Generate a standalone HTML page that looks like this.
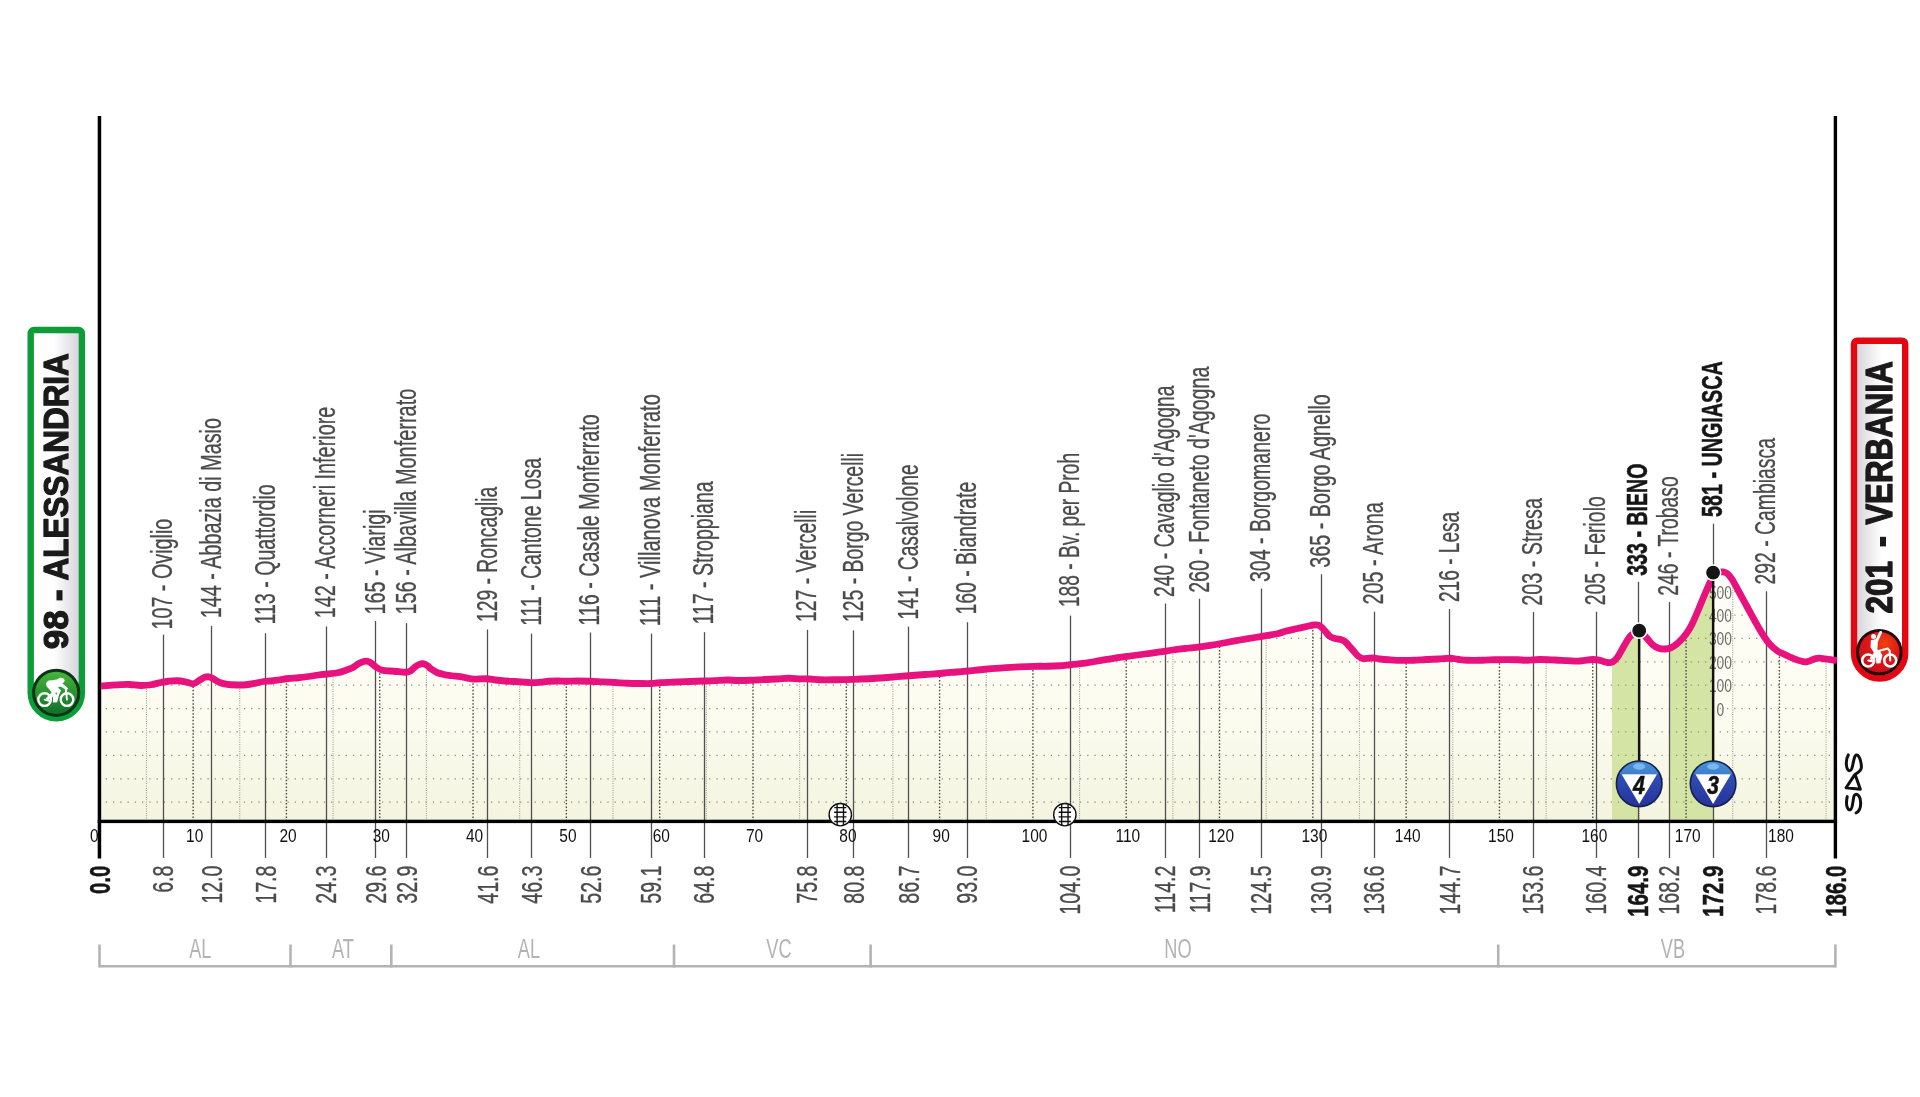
<!DOCTYPE html>
<html lang="en"><head><meta charset="utf-8"><title>Alessandria - Verbania</title>
<style>html,body{margin:0;padding:0;background:#fff;}svg{display:block;}text{font-family:"Liberation Sans",sans-serif;}</style>
</head><body>
<svg width="1920" height="1097" viewBox="0 0 1920 1097" style="will-change:transform">
<defs>
<linearGradient id="gFill" x1="0" y1="570" x2="0" y2="822" gradientUnits="userSpaceOnUse"><stop offset="0" stop-color="#fefef8"/><stop offset="0.55" stop-color="#fcfcf1"/><stop offset="1" stop-color="#f4f4e0"/></linearGradient>
<linearGradient id="gStart" x1="33" y1="0" x2="79" y2="0" gradientUnits="userSpaceOnUse"><stop offset="0" stop-color="#ffffff"/><stop offset="0.45" stop-color="#ffffff"/><stop offset="1" stop-color="#d6d5dc"/></linearGradient>
<linearGradient id="gEnd" x1="1857" y1="0" x2="1902" y2="0" gradientUnits="userSpaceOnUse"><stop offset="0" stop-color="#d6d5dc"/><stop offset="0.55" stop-color="#ffffff"/><stop offset="1" stop-color="#ffffff"/></linearGradient>
<linearGradient id="gGreen" x1="0" y1="0" x2="0" y2="1"><stop offset="0" stop-color="#46b838"/><stop offset="1" stop-color="#0f6d2a"/></linearGradient>
<radialGradient id="gRed" cx="0.62" cy="0.3" r="0.75"><stop offset="0" stop-color="#f2400f"/><stop offset="0.45" stop-color="#e01818"/><stop offset="1" stop-color="#c20d1e"/></radialGradient>
<linearGradient id="gKom" x1="0" y1="0" x2="0" y2="1"><stop offset="0" stop-color="#4a90d9"/><stop offset="0.28" stop-color="#3f7fcc"/><stop offset="0.29" stop-color="#2f4fb4"/><stop offset="1" stop-color="#27339c"/></linearGradient>
<clipPath id="cArea"><path d="M101.00,686.00 C101.33,685.98 101.33,686.02 103.00,685.90 C104.67,685.77 108.00,685.47 111.00,685.25 C114.00,685.03 117.88,684.73 121.00,684.60 C124.12,684.48 126.42,684.35 129.75,684.50 C133.08,684.65 137.46,685.46 141.00,685.50 C144.54,685.54 147.67,685.25 151.00,684.75 C154.33,684.25 158.08,683.08 161.00,682.50 C163.92,681.92 165.79,681.54 168.50,681.25 C171.21,680.96 174.33,680.62 177.25,680.75 C180.17,680.88 183.29,681.50 186.00,682.00 C188.71,682.50 191.21,684.08 193.50,683.75 C195.79,683.42 197.88,681.08 199.75,680.00 C201.62,678.92 203.08,677.75 204.75,677.25 C206.42,676.75 208.08,676.58 209.75,677.00 C211.42,677.42 213.08,678.83 214.75,679.75 C216.42,680.67 217.67,681.73 219.75,682.50 C221.83,683.27 224.33,683.98 227.25,684.40 C230.17,684.82 234.12,684.94 237.25,685.00 C240.38,685.06 243.08,685.02 246.00,684.75 C248.92,684.48 251.83,683.94 254.75,683.40 C257.67,682.86 260.79,681.90 263.50,681.50 C266.21,681.10 268.29,681.29 271.00,681.00 C273.71,680.71 276.83,680.17 279.75,679.75 C282.67,679.33 285.38,678.83 288.50,678.50 C291.62,678.17 295.17,678.08 298.50,677.75 C301.83,677.42 305.17,676.96 308.50,676.50 C311.83,676.04 315.38,675.42 318.50,675.00 C321.62,674.58 324.08,674.38 327.25,674.00 C330.42,673.62 334.54,673.32 337.50,672.75 C340.46,672.18 342.50,671.43 345.00,670.60 C347.50,669.77 350.21,668.93 352.50,667.75 C354.79,666.57 356.88,664.54 358.75,663.50 C360.62,662.46 362.29,661.88 363.75,661.50 C365.21,661.12 366.25,660.98 367.50,661.25 C368.75,661.52 369.79,662.10 371.25,663.10 C372.71,664.10 374.38,666.06 376.25,667.25 C378.12,668.44 380.21,669.62 382.50,670.25 C384.79,670.88 387.50,670.79 390.00,671.00 C392.50,671.21 395.00,671.29 397.50,671.50 C400.00,671.71 402.92,672.29 405.00,672.25 C407.08,672.21 408.33,672.14 410.00,671.25 C411.67,670.36 413.43,668.04 415.00,666.90 C416.57,665.76 418.05,664.92 419.40,664.40 C420.75,663.88 421.85,663.61 423.10,663.75 C424.35,663.89 425.54,664.38 426.90,665.25 C428.26,666.12 429.48,667.75 431.25,669.00 C433.02,670.25 435.21,671.79 437.50,672.75 C439.79,673.71 442.50,674.25 445.00,674.75 C447.50,675.25 450.00,675.44 452.50,675.75 C455.00,676.06 457.50,676.21 460.00,676.60 C462.50,676.99 465.21,677.68 467.50,678.10 C469.79,678.52 470.62,678.99 473.75,679.10 C476.88,679.21 482.71,678.60 486.25,678.75 C489.79,678.90 491.88,679.62 495.00,680.00 C498.12,680.38 501.67,680.75 505.00,681.00 C508.33,681.25 511.67,681.29 515.00,681.50 C518.33,681.71 522.08,682.04 525.00,682.25 C527.92,682.46 530.00,682.75 532.50,682.75 C535.00,682.75 537.29,682.50 540.00,682.25 C542.71,682.00 545.83,681.46 548.75,681.25 C551.67,681.04 554.46,681.00 557.50,681.00 C560.54,681.00 563.67,681.25 567.00,681.25 C570.33,681.25 573.67,681.00 577.50,681.00 C581.33,681.00 585.83,681.10 590.00,681.25 C594.17,681.40 598.33,681.69 602.50,681.90 C606.67,682.11 610.83,682.27 615.00,682.50 C619.17,682.73 623.33,683.08 627.50,683.25 C631.67,683.42 636.04,683.46 640.00,683.50 C643.96,683.54 647.92,683.62 651.25,683.50 C654.58,683.38 655.62,683.00 660.00,682.75 C664.38,682.50 672.50,682.21 677.50,682.00 C682.50,681.79 685.62,681.67 690.00,681.50 C694.38,681.33 699.58,681.15 703.75,681.00 C707.92,680.85 711.04,680.77 715.00,680.60 C718.96,680.43 723.75,680.02 727.50,680.00 C731.25,679.98 733.75,680.46 737.50,680.50 C741.25,680.54 745.42,680.42 750.00,680.25 C754.58,680.08 760.42,679.71 765.00,679.50 C769.58,679.29 773.54,679.21 777.50,679.00 C781.46,678.79 785.00,678.27 788.75,678.25 C792.50,678.23 796.46,678.77 800.00,678.90 C803.54,679.02 806.67,678.86 810.00,679.00 C813.33,679.14 815.83,679.62 820.00,679.75 C824.17,679.88 829.38,679.81 835.00,679.75 C840.62,679.69 848.12,679.57 853.75,679.40 C859.38,679.23 863.12,679.07 868.75,678.75 C874.38,678.43 880.83,678.00 887.50,677.50 C894.17,677.00 902.50,676.25 908.75,675.75 C915.00,675.25 919.79,674.88 925.00,674.50 C930.21,674.12 934.79,673.92 940.00,673.50 C945.21,673.08 951.67,672.42 956.25,672.00 C960.83,671.58 962.71,671.46 967.50,671.00 C972.29,670.54 979.58,669.73 985.00,669.25 C990.42,668.77 994.38,668.49 1000.00,668.10 C1005.62,667.71 1012.92,667.20 1018.75,666.90 C1024.58,666.60 1030.21,666.41 1035.00,666.30 C1039.79,666.19 1043.33,666.34 1047.50,666.25 C1051.67,666.16 1056.25,666.00 1060.00,665.75 C1063.75,665.50 1065.83,665.19 1070.00,664.75 C1074.17,664.31 1080.00,663.79 1085.00,663.10 C1090.00,662.41 1095.00,661.43 1100.00,660.60 C1105.00,659.77 1110.00,658.87 1115.00,658.10 C1120.00,657.33 1125.00,656.68 1130.00,656.00 C1135.00,655.32 1140.00,654.68 1145.00,654.00 C1150.00,653.32 1155.42,652.57 1160.00,651.90 C1164.58,651.23 1168.33,650.57 1172.50,650.00 C1176.67,649.43 1180.42,649.02 1185.00,648.50 C1189.58,647.98 1195.42,647.48 1200.00,646.90 C1204.58,646.32 1208.33,645.69 1212.50,645.00 C1216.67,644.31 1220.42,643.58 1225.00,642.75 C1229.58,641.92 1235.00,640.88 1240.00,640.00 C1245.00,639.12 1250.83,638.20 1255.00,637.50 C1259.17,636.80 1261.25,636.42 1265.00,635.80 C1268.75,635.17 1273.96,634.55 1277.50,633.75 C1281.04,632.95 1282.92,631.88 1286.25,631.00 C1289.58,630.12 1293.96,629.29 1297.50,628.50 C1301.04,627.71 1304.79,626.83 1307.50,626.25 C1310.21,625.67 1311.88,625.17 1313.75,625.00 C1315.62,624.83 1317.29,624.73 1318.75,625.25 C1320.21,625.77 1321.25,626.89 1322.50,628.10 C1323.75,629.31 1325.00,631.10 1326.25,632.50 C1327.50,633.90 1328.54,635.50 1330.00,636.50 C1331.46,637.50 1333.12,637.96 1335.00,638.50 C1336.88,639.04 1339.58,639.25 1341.25,639.75 C1342.92,640.25 1343.75,640.52 1345.00,641.50 C1346.25,642.48 1347.29,643.98 1348.75,645.60 C1350.21,647.23 1352.19,649.52 1353.75,651.25 C1355.31,652.98 1356.64,654.79 1358.10,656.00 C1359.56,657.21 1360.72,658.12 1362.50,658.50 C1364.28,658.88 1366.88,658.33 1368.75,658.25 C1370.62,658.17 1371.88,657.88 1373.75,658.00 C1375.62,658.12 1377.50,658.71 1380.00,659.00 C1382.50,659.29 1385.21,659.52 1388.75,659.75 C1392.29,659.98 1397.08,660.32 1401.25,660.40 C1405.42,660.48 1409.58,660.40 1413.75,660.25 C1417.92,660.10 1422.08,659.71 1426.25,659.50 C1430.42,659.29 1434.79,659.21 1438.75,659.00 C1442.71,658.79 1446.88,658.21 1450.00,658.25 C1453.12,658.29 1454.58,658.92 1457.50,659.25 C1460.42,659.58 1463.33,660.08 1467.50,660.25 C1471.67,660.42 1477.92,660.33 1482.50,660.25 C1487.08,660.17 1490.92,659.86 1495.00,659.75 C1499.08,659.64 1503.25,659.60 1507.00,659.60 C1510.75,659.60 1514.08,659.64 1517.50,659.75 C1520.92,659.86 1523.75,660.29 1527.50,660.25 C1531.25,660.21 1535.42,659.54 1540.00,659.50 C1544.58,659.46 1550.42,659.82 1555.00,660.00 C1559.58,660.18 1563.33,660.43 1567.50,660.60 C1571.67,660.77 1575.83,661.18 1580.00,661.00 C1584.17,660.82 1589.17,659.60 1592.50,659.50 C1595.83,659.40 1597.50,659.90 1600.00,660.40 C1602.50,660.90 1605.42,662.25 1607.50,662.50 C1609.58,662.75 1610.83,662.78 1612.50,661.90 C1614.17,661.02 1615.83,659.39 1617.50,657.20 C1619.17,655.01 1620.83,651.62 1622.50,648.75 C1624.17,645.88 1626.04,642.26 1627.50,640.00 C1628.96,637.74 1629.32,636.65 1631.25,635.20 C1633.18,633.75 1636.60,630.92 1639.10,631.30 C1641.60,631.68 1644.02,635.28 1646.25,637.50 C1648.48,639.72 1650.42,642.82 1652.50,644.60 C1654.58,646.38 1656.67,647.47 1658.75,648.20 C1660.83,648.93 1662.92,649.10 1665.00,649.00 C1667.08,648.90 1668.96,648.73 1671.25,647.60 C1673.54,646.47 1676.25,644.51 1678.75,642.20 C1681.25,639.89 1683.96,636.92 1686.25,633.75 C1688.54,630.58 1690.42,627.37 1692.50,623.20 C1694.58,619.03 1696.67,613.66 1698.75,608.75 C1700.83,603.84 1703.12,598.12 1705.00,593.75 C1706.88,589.38 1708.58,585.54 1710.00,582.50 C1711.42,579.46 1712.17,577.15 1713.50,575.50 C1714.83,573.85 1716.40,573.20 1718.00,572.60 C1719.60,572.00 1721.52,571.71 1723.10,571.90 C1724.68,572.09 1725.93,572.40 1727.50,573.75 C1729.07,575.10 1730.42,576.67 1732.50,580.00 C1734.58,583.33 1737.50,589.17 1740.00,593.75 C1742.50,598.33 1745.00,602.92 1747.50,607.50 C1750.00,612.08 1752.50,616.80 1755.00,621.25 C1757.50,625.70 1760.00,630.31 1762.50,634.20 C1765.00,638.09 1767.50,641.80 1770.00,644.60 C1772.50,647.40 1775.00,649.33 1777.50,651.00 C1780.00,652.67 1782.08,653.23 1785.00,654.60 C1787.92,655.97 1792.08,658.05 1795.00,659.20 C1797.92,660.35 1800.58,661.05 1802.50,661.50 C1804.42,661.95 1805.08,662.08 1806.50,661.90 C1807.92,661.72 1809.58,660.92 1811.00,660.40 C1812.42,659.88 1813.62,659.18 1815.00,658.80 C1816.38,658.42 1817.30,658.03 1819.30,658.10 C1821.30,658.17 1824.88,658.90 1827.00,659.20 C1829.12,659.50 1830.35,659.70 1832.00,659.90 C1833.65,660.10 1836.08,660.32 1836.90,660.40 L1836.9,821.5 L99.6,821.5 L99.6,686 Z"/></clipPath>
</defs>
<rect width="1920" height="1097" fill="#ffffff"/>
<g clip-path="url(#cArea)">
<rect x="98" y="560" width="1740" height="264" fill="url(#gFill)"/>
<rect x="1612" y="560" width="27.2" height="264" fill="#d3e4a4"/>
<rect x="1669.3" y="560" width="43.8" height="264" fill="#d3e4a4"/>
<line x1="105.7" y1="802.16" x2="1834" y2="802.16" stroke="#8e8e82" stroke-width="1.25" stroke-dasharray="1.3 5.97"/>
<line x1="105.7" y1="778.77" x2="1834" y2="778.77" stroke="#8e8e82" stroke-width="1.25" stroke-dasharray="1.3 5.97"/>
<line x1="105.7" y1="755.38" x2="1834" y2="755.38" stroke="#8e8e82" stroke-width="1.25" stroke-dasharray="1.3 5.97"/>
<line x1="105.7" y1="731.99" x2="1834" y2="731.99" stroke="#8e8e82" stroke-width="1.25" stroke-dasharray="1.3 5.97"/>
<line x1="105.7" y1="708.60" x2="1834" y2="708.60" stroke="#8e8e82" stroke-width="1.25" stroke-dasharray="1.3 5.97"/>
<line x1="105.7" y1="685.21" x2="1834" y2="685.21" stroke="#8e8e82" stroke-width="1.25" stroke-dasharray="1.3 5.97"/>
<line x1="105.7" y1="661.82" x2="1834" y2="661.82" stroke="#8e8e82" stroke-width="1.25" stroke-dasharray="1.3 5.97"/>
<line x1="105.7" y1="638.43" x2="1834" y2="638.43" stroke="#8e8e82" stroke-width="1.25" stroke-dasharray="1.3 5.97"/>
<line x1="105.7" y1="615.04" x2="1834" y2="615.04" stroke="#8e8e82" stroke-width="1.25" stroke-dasharray="1.3 5.97"/>
<line x1="105.7" y1="591.65" x2="1834" y2="591.65" stroke="#8e8e82" stroke-width="1.25" stroke-dasharray="1.3 5.97"/>
<line x1="146.45" y1="560" x2="146.45" y2="820" stroke="#a2a298" stroke-width="1.1" stroke-dasharray="1 1.3"/>
<line x1="193.11" y1="560" x2="193.11" y2="820" stroke="#4a4a44" stroke-width="1.4" stroke-dasharray="1.5 1.83"/>
<line x1="239.76" y1="560" x2="239.76" y2="820" stroke="#a2a298" stroke-width="1.1" stroke-dasharray="1 1.3"/>
<line x1="286.42" y1="560" x2="286.42" y2="820" stroke="#4a4a44" stroke-width="1.4" stroke-dasharray="1.5 1.83"/>
<line x1="333.07" y1="560" x2="333.07" y2="820" stroke="#a2a298" stroke-width="1.1" stroke-dasharray="1 1.3"/>
<line x1="379.73" y1="560" x2="379.73" y2="820" stroke="#4a4a44" stroke-width="1.4" stroke-dasharray="1.5 1.83"/>
<line x1="426.38" y1="560" x2="426.38" y2="820" stroke="#a2a298" stroke-width="1.1" stroke-dasharray="1 1.3"/>
<line x1="473.04" y1="560" x2="473.04" y2="820" stroke="#4a4a44" stroke-width="1.4" stroke-dasharray="1.5 1.83"/>
<line x1="519.69" y1="560" x2="519.69" y2="820" stroke="#a2a298" stroke-width="1.1" stroke-dasharray="1 1.3"/>
<line x1="566.35" y1="560" x2="566.35" y2="820" stroke="#4a4a44" stroke-width="1.4" stroke-dasharray="1.5 1.83"/>
<line x1="613.00" y1="560" x2="613.00" y2="820" stroke="#a2a298" stroke-width="1.1" stroke-dasharray="1 1.3"/>
<line x1="659.66" y1="560" x2="659.66" y2="820" stroke="#4a4a44" stroke-width="1.4" stroke-dasharray="1.5 1.83"/>
<line x1="706.31" y1="560" x2="706.31" y2="820" stroke="#a2a298" stroke-width="1.1" stroke-dasharray="1 1.3"/>
<line x1="752.97" y1="560" x2="752.97" y2="820" stroke="#4a4a44" stroke-width="1.4" stroke-dasharray="1.5 1.83"/>
<line x1="799.62" y1="560" x2="799.62" y2="820" stroke="#a2a298" stroke-width="1.1" stroke-dasharray="1 1.3"/>
<line x1="846.28" y1="560" x2="846.28" y2="820" stroke="#4a4a44" stroke-width="1.4" stroke-dasharray="1.5 1.83"/>
<line x1="892.93" y1="560" x2="892.93" y2="820" stroke="#a2a298" stroke-width="1.1" stroke-dasharray="1 1.3"/>
<line x1="939.59" y1="560" x2="939.59" y2="820" stroke="#4a4a44" stroke-width="1.4" stroke-dasharray="1.5 1.83"/>
<line x1="986.24" y1="560" x2="986.24" y2="820" stroke="#a2a298" stroke-width="1.1" stroke-dasharray="1 1.3"/>
<line x1="1032.90" y1="560" x2="1032.90" y2="820" stroke="#4a4a44" stroke-width="1.4" stroke-dasharray="1.5 1.83"/>
<line x1="1079.56" y1="560" x2="1079.56" y2="820" stroke="#a2a298" stroke-width="1.1" stroke-dasharray="1 1.3"/>
<line x1="1126.21" y1="560" x2="1126.21" y2="820" stroke="#4a4a44" stroke-width="1.4" stroke-dasharray="1.5 1.83"/>
<line x1="1172.87" y1="560" x2="1172.87" y2="820" stroke="#a2a298" stroke-width="1.1" stroke-dasharray="1 1.3"/>
<line x1="1219.52" y1="560" x2="1219.52" y2="820" stroke="#4a4a44" stroke-width="1.4" stroke-dasharray="1.5 1.83"/>
<line x1="1266.17" y1="560" x2="1266.17" y2="820" stroke="#a2a298" stroke-width="1.1" stroke-dasharray="1 1.3"/>
<line x1="1312.83" y1="560" x2="1312.83" y2="820" stroke="#4a4a44" stroke-width="1.4" stroke-dasharray="1.5 1.83"/>
<line x1="1359.48" y1="560" x2="1359.48" y2="820" stroke="#a2a298" stroke-width="1.1" stroke-dasharray="1 1.3"/>
<line x1="1406.14" y1="560" x2="1406.14" y2="820" stroke="#4a4a44" stroke-width="1.4" stroke-dasharray="1.5 1.83"/>
<line x1="1452.79" y1="560" x2="1452.79" y2="820" stroke="#a2a298" stroke-width="1.1" stroke-dasharray="1 1.3"/>
<line x1="1499.45" y1="560" x2="1499.45" y2="820" stroke="#4a4a44" stroke-width="1.4" stroke-dasharray="1.5 1.83"/>
<line x1="1546.10" y1="560" x2="1546.10" y2="820" stroke="#a2a298" stroke-width="1.1" stroke-dasharray="1 1.3"/>
<line x1="1592.76" y1="560" x2="1592.76" y2="820" stroke="#4a4a44" stroke-width="1.4" stroke-dasharray="1.5 1.83"/>
<line x1="1639.41" y1="560" x2="1639.41" y2="820" stroke="#a2a298" stroke-width="1.1" stroke-dasharray="1 1.3"/>
<line x1="1686.07" y1="560" x2="1686.07" y2="820" stroke="#4a4a44" stroke-width="1.4" stroke-dasharray="1.5 1.83"/>
<line x1="1732.72" y1="560" x2="1732.72" y2="820" stroke="#a2a298" stroke-width="1.1" stroke-dasharray="1 1.3"/>
<line x1="1779.38" y1="560" x2="1779.38" y2="820" stroke="#4a4a44" stroke-width="1.4" stroke-dasharray="1.5 1.83"/>
<line x1="1826.03" y1="560" x2="1826.03" y2="820" stroke="#a2a298" stroke-width="1.1" stroke-dasharray="1 1.3"/>
</g>
<text transform="translate(1720.4,715.5) scale(0.79,1)" font-size="17.5" fill="#6a6a66" text-anchor="middle">0</text>
<text transform="translate(1720.4,692.1) scale(0.79,1)" font-size="17.5" fill="#6a6a66" text-anchor="middle">100</text>
<text transform="translate(1720.4,668.7) scale(0.79,1)" font-size="17.5" fill="#6a6a66" text-anchor="middle">200</text>
<text transform="translate(1720.4,645.3) scale(0.79,1)" font-size="17.5" fill="#6a6a66" text-anchor="middle">300</text>
<text transform="translate(1720.4,621.9) scale(0.79,1)" font-size="17.5" fill="#6a6a66" text-anchor="middle">400</text>
<text transform="translate(1720.4,598.5) scale(0.79,1)" font-size="17.5" fill="#6a6a66" text-anchor="middle">500</text>
<line x1="163.5" y1="634.6" x2="163.5" y2="858" stroke="#505050" stroke-width="1.3"/>
<line x1="211.5" y1="625.9" x2="211.5" y2="858" stroke="#505050" stroke-width="1.3"/>
<line x1="265.5" y1="633.2" x2="265.5" y2="858" stroke="#505050" stroke-width="1.3"/>
<line x1="326.5" y1="626.4" x2="326.5" y2="858" stroke="#505050" stroke-width="1.3"/>
<line x1="375.5" y1="621.0" x2="375.5" y2="858" stroke="#505050" stroke-width="1.3"/>
<line x1="406.5" y1="623.1" x2="406.5" y2="858" stroke="#505050" stroke-width="1.3"/>
<line x1="487.5" y1="629.4" x2="487.5" y2="858" stroke="#505050" stroke-width="1.3"/>
<line x1="531.5" y1="633.6" x2="531.5" y2="858" stroke="#505050" stroke-width="1.3"/>
<line x1="590.5" y1="632.5" x2="590.5" y2="858" stroke="#505050" stroke-width="1.3"/>
<line x1="651.5" y1="633.6" x2="651.5" y2="858" stroke="#505050" stroke-width="1.3"/>
<line x1="704.5" y1="632.2" x2="704.5" y2="858" stroke="#505050" stroke-width="1.3"/>
<line x1="807.5" y1="629.9" x2="807.5" y2="858" stroke="#505050" stroke-width="1.3"/>
<line x1="853.5" y1="630.4" x2="853.5" y2="858" stroke="#505050" stroke-width="1.3"/>
<line x1="908.5" y1="626.6" x2="908.5" y2="858" stroke="#505050" stroke-width="1.3"/>
<line x1="967.5" y1="622.2" x2="967.5" y2="858" stroke="#505050" stroke-width="1.3"/>
<line x1="1070.5" y1="615.6" x2="1070.5" y2="858" stroke="#505050" stroke-width="1.3"/>
<line x1="1165.5" y1="603.5" x2="1165.5" y2="858" stroke="#505050" stroke-width="1.3"/>
<line x1="1199.5" y1="598.8" x2="1199.5" y2="858" stroke="#505050" stroke-width="1.3"/>
<line x1="1261.5" y1="588.5" x2="1261.5" y2="858" stroke="#505050" stroke-width="1.3"/>
<line x1="1321.5" y1="574.2" x2="1321.5" y2="858" stroke="#505050" stroke-width="1.3"/>
<line x1="1374.5" y1="611.7" x2="1374.5" y2="858" stroke="#505050" stroke-width="1.3"/>
<line x1="1449.5" y1="609.1" x2="1449.5" y2="858" stroke="#505050" stroke-width="1.3"/>
<line x1="1533.5" y1="612.1" x2="1533.5" y2="858" stroke="#505050" stroke-width="1.3"/>
<line x1="1596.5" y1="611.7" x2="1596.5" y2="858" stroke="#505050" stroke-width="1.3"/>
<line x1="1638.5" y1="581.7" x2="1638.5" y2="858" stroke="#505050" stroke-width="1.3"/>
<line x1="1669.5" y1="602.1" x2="1669.5" y2="858" stroke="#505050" stroke-width="1.3"/>
<line x1="1713.5" y1="523.7" x2="1713.5" y2="858" stroke="#505050" stroke-width="1.3"/>
<line x1="1766.5" y1="591.3" x2="1766.5" y2="858" stroke="#505050" stroke-width="1.3"/>
<rect x="97.7" y="819.7" width="1739.4" height="3.4" fill="#000"/>
<text transform="translate(94.3,842.1) scale(0.86,1)" font-size="18" fill="#111" text-anchor="middle">0</text>
<rect x="97.7" y="116" width="3.5" height="742.5" fill="#000"/>
<rect x="1833.7" y="116" width="3.4" height="742.5" fill="#000"/>
<path d="M101.00,686.00 C101.33,685.98 101.33,686.02 103.00,685.90 C104.67,685.77 108.00,685.47 111.00,685.25 C114.00,685.03 117.88,684.73 121.00,684.60 C124.12,684.48 126.42,684.35 129.75,684.50 C133.08,684.65 137.46,685.46 141.00,685.50 C144.54,685.54 147.67,685.25 151.00,684.75 C154.33,684.25 158.08,683.08 161.00,682.50 C163.92,681.92 165.79,681.54 168.50,681.25 C171.21,680.96 174.33,680.62 177.25,680.75 C180.17,680.88 183.29,681.50 186.00,682.00 C188.71,682.50 191.21,684.08 193.50,683.75 C195.79,683.42 197.88,681.08 199.75,680.00 C201.62,678.92 203.08,677.75 204.75,677.25 C206.42,676.75 208.08,676.58 209.75,677.00 C211.42,677.42 213.08,678.83 214.75,679.75 C216.42,680.67 217.67,681.73 219.75,682.50 C221.83,683.27 224.33,683.98 227.25,684.40 C230.17,684.82 234.12,684.94 237.25,685.00 C240.38,685.06 243.08,685.02 246.00,684.75 C248.92,684.48 251.83,683.94 254.75,683.40 C257.67,682.86 260.79,681.90 263.50,681.50 C266.21,681.10 268.29,681.29 271.00,681.00 C273.71,680.71 276.83,680.17 279.75,679.75 C282.67,679.33 285.38,678.83 288.50,678.50 C291.62,678.17 295.17,678.08 298.50,677.75 C301.83,677.42 305.17,676.96 308.50,676.50 C311.83,676.04 315.38,675.42 318.50,675.00 C321.62,674.58 324.08,674.38 327.25,674.00 C330.42,673.62 334.54,673.32 337.50,672.75 C340.46,672.18 342.50,671.43 345.00,670.60 C347.50,669.77 350.21,668.93 352.50,667.75 C354.79,666.57 356.88,664.54 358.75,663.50 C360.62,662.46 362.29,661.88 363.75,661.50 C365.21,661.12 366.25,660.98 367.50,661.25 C368.75,661.52 369.79,662.10 371.25,663.10 C372.71,664.10 374.38,666.06 376.25,667.25 C378.12,668.44 380.21,669.62 382.50,670.25 C384.79,670.88 387.50,670.79 390.00,671.00 C392.50,671.21 395.00,671.29 397.50,671.50 C400.00,671.71 402.92,672.29 405.00,672.25 C407.08,672.21 408.33,672.14 410.00,671.25 C411.67,670.36 413.43,668.04 415.00,666.90 C416.57,665.76 418.05,664.92 419.40,664.40 C420.75,663.88 421.85,663.61 423.10,663.75 C424.35,663.89 425.54,664.38 426.90,665.25 C428.26,666.12 429.48,667.75 431.25,669.00 C433.02,670.25 435.21,671.79 437.50,672.75 C439.79,673.71 442.50,674.25 445.00,674.75 C447.50,675.25 450.00,675.44 452.50,675.75 C455.00,676.06 457.50,676.21 460.00,676.60 C462.50,676.99 465.21,677.68 467.50,678.10 C469.79,678.52 470.62,678.99 473.75,679.10 C476.88,679.21 482.71,678.60 486.25,678.75 C489.79,678.90 491.88,679.62 495.00,680.00 C498.12,680.38 501.67,680.75 505.00,681.00 C508.33,681.25 511.67,681.29 515.00,681.50 C518.33,681.71 522.08,682.04 525.00,682.25 C527.92,682.46 530.00,682.75 532.50,682.75 C535.00,682.75 537.29,682.50 540.00,682.25 C542.71,682.00 545.83,681.46 548.75,681.25 C551.67,681.04 554.46,681.00 557.50,681.00 C560.54,681.00 563.67,681.25 567.00,681.25 C570.33,681.25 573.67,681.00 577.50,681.00 C581.33,681.00 585.83,681.10 590.00,681.25 C594.17,681.40 598.33,681.69 602.50,681.90 C606.67,682.11 610.83,682.27 615.00,682.50 C619.17,682.73 623.33,683.08 627.50,683.25 C631.67,683.42 636.04,683.46 640.00,683.50 C643.96,683.54 647.92,683.62 651.25,683.50 C654.58,683.38 655.62,683.00 660.00,682.75 C664.38,682.50 672.50,682.21 677.50,682.00 C682.50,681.79 685.62,681.67 690.00,681.50 C694.38,681.33 699.58,681.15 703.75,681.00 C707.92,680.85 711.04,680.77 715.00,680.60 C718.96,680.43 723.75,680.02 727.50,680.00 C731.25,679.98 733.75,680.46 737.50,680.50 C741.25,680.54 745.42,680.42 750.00,680.25 C754.58,680.08 760.42,679.71 765.00,679.50 C769.58,679.29 773.54,679.21 777.50,679.00 C781.46,678.79 785.00,678.27 788.75,678.25 C792.50,678.23 796.46,678.77 800.00,678.90 C803.54,679.02 806.67,678.86 810.00,679.00 C813.33,679.14 815.83,679.62 820.00,679.75 C824.17,679.88 829.38,679.81 835.00,679.75 C840.62,679.69 848.12,679.57 853.75,679.40 C859.38,679.23 863.12,679.07 868.75,678.75 C874.38,678.43 880.83,678.00 887.50,677.50 C894.17,677.00 902.50,676.25 908.75,675.75 C915.00,675.25 919.79,674.88 925.00,674.50 C930.21,674.12 934.79,673.92 940.00,673.50 C945.21,673.08 951.67,672.42 956.25,672.00 C960.83,671.58 962.71,671.46 967.50,671.00 C972.29,670.54 979.58,669.73 985.00,669.25 C990.42,668.77 994.38,668.49 1000.00,668.10 C1005.62,667.71 1012.92,667.20 1018.75,666.90 C1024.58,666.60 1030.21,666.41 1035.00,666.30 C1039.79,666.19 1043.33,666.34 1047.50,666.25 C1051.67,666.16 1056.25,666.00 1060.00,665.75 C1063.75,665.50 1065.83,665.19 1070.00,664.75 C1074.17,664.31 1080.00,663.79 1085.00,663.10 C1090.00,662.41 1095.00,661.43 1100.00,660.60 C1105.00,659.77 1110.00,658.87 1115.00,658.10 C1120.00,657.33 1125.00,656.68 1130.00,656.00 C1135.00,655.32 1140.00,654.68 1145.00,654.00 C1150.00,653.32 1155.42,652.57 1160.00,651.90 C1164.58,651.23 1168.33,650.57 1172.50,650.00 C1176.67,649.43 1180.42,649.02 1185.00,648.50 C1189.58,647.98 1195.42,647.48 1200.00,646.90 C1204.58,646.32 1208.33,645.69 1212.50,645.00 C1216.67,644.31 1220.42,643.58 1225.00,642.75 C1229.58,641.92 1235.00,640.88 1240.00,640.00 C1245.00,639.12 1250.83,638.20 1255.00,637.50 C1259.17,636.80 1261.25,636.42 1265.00,635.80 C1268.75,635.17 1273.96,634.55 1277.50,633.75 C1281.04,632.95 1282.92,631.88 1286.25,631.00 C1289.58,630.12 1293.96,629.29 1297.50,628.50 C1301.04,627.71 1304.79,626.83 1307.50,626.25 C1310.21,625.67 1311.88,625.17 1313.75,625.00 C1315.62,624.83 1317.29,624.73 1318.75,625.25 C1320.21,625.77 1321.25,626.89 1322.50,628.10 C1323.75,629.31 1325.00,631.10 1326.25,632.50 C1327.50,633.90 1328.54,635.50 1330.00,636.50 C1331.46,637.50 1333.12,637.96 1335.00,638.50 C1336.88,639.04 1339.58,639.25 1341.25,639.75 C1342.92,640.25 1343.75,640.52 1345.00,641.50 C1346.25,642.48 1347.29,643.98 1348.75,645.60 C1350.21,647.23 1352.19,649.52 1353.75,651.25 C1355.31,652.98 1356.64,654.79 1358.10,656.00 C1359.56,657.21 1360.72,658.12 1362.50,658.50 C1364.28,658.88 1366.88,658.33 1368.75,658.25 C1370.62,658.17 1371.88,657.88 1373.75,658.00 C1375.62,658.12 1377.50,658.71 1380.00,659.00 C1382.50,659.29 1385.21,659.52 1388.75,659.75 C1392.29,659.98 1397.08,660.32 1401.25,660.40 C1405.42,660.48 1409.58,660.40 1413.75,660.25 C1417.92,660.10 1422.08,659.71 1426.25,659.50 C1430.42,659.29 1434.79,659.21 1438.75,659.00 C1442.71,658.79 1446.88,658.21 1450.00,658.25 C1453.12,658.29 1454.58,658.92 1457.50,659.25 C1460.42,659.58 1463.33,660.08 1467.50,660.25 C1471.67,660.42 1477.92,660.33 1482.50,660.25 C1487.08,660.17 1490.92,659.86 1495.00,659.75 C1499.08,659.64 1503.25,659.60 1507.00,659.60 C1510.75,659.60 1514.08,659.64 1517.50,659.75 C1520.92,659.86 1523.75,660.29 1527.50,660.25 C1531.25,660.21 1535.42,659.54 1540.00,659.50 C1544.58,659.46 1550.42,659.82 1555.00,660.00 C1559.58,660.18 1563.33,660.43 1567.50,660.60 C1571.67,660.77 1575.83,661.18 1580.00,661.00 C1584.17,660.82 1589.17,659.60 1592.50,659.50 C1595.83,659.40 1597.50,659.90 1600.00,660.40 C1602.50,660.90 1605.42,662.25 1607.50,662.50 C1609.58,662.75 1610.83,662.78 1612.50,661.90 C1614.17,661.02 1615.83,659.39 1617.50,657.20 C1619.17,655.01 1620.83,651.62 1622.50,648.75 C1624.17,645.88 1626.04,642.26 1627.50,640.00 C1628.96,637.74 1629.32,636.65 1631.25,635.20 C1633.18,633.75 1636.60,630.92 1639.10,631.30 C1641.60,631.68 1644.02,635.28 1646.25,637.50 C1648.48,639.72 1650.42,642.82 1652.50,644.60 C1654.58,646.38 1656.67,647.47 1658.75,648.20 C1660.83,648.93 1662.92,649.10 1665.00,649.00 C1667.08,648.90 1668.96,648.73 1671.25,647.60 C1673.54,646.47 1676.25,644.51 1678.75,642.20 C1681.25,639.89 1683.96,636.92 1686.25,633.75 C1688.54,630.58 1690.42,627.37 1692.50,623.20 C1694.58,619.03 1696.67,613.66 1698.75,608.75 C1700.83,603.84 1703.12,598.12 1705.00,593.75 C1706.88,589.38 1708.58,585.54 1710.00,582.50 C1711.42,579.46 1712.17,577.15 1713.50,575.50 C1714.83,573.85 1716.40,573.20 1718.00,572.60 C1719.60,572.00 1721.52,571.71 1723.10,571.90 C1724.68,572.09 1725.93,572.40 1727.50,573.75 C1729.07,575.10 1730.42,576.67 1732.50,580.00 C1734.58,583.33 1737.50,589.17 1740.00,593.75 C1742.50,598.33 1745.00,602.92 1747.50,607.50 C1750.00,612.08 1752.50,616.80 1755.00,621.25 C1757.50,625.70 1760.00,630.31 1762.50,634.20 C1765.00,638.09 1767.50,641.80 1770.00,644.60 C1772.50,647.40 1775.00,649.33 1777.50,651.00 C1780.00,652.67 1782.08,653.23 1785.00,654.60 C1787.92,655.97 1792.08,658.05 1795.00,659.20 C1797.92,660.35 1800.58,661.05 1802.50,661.50 C1804.42,661.95 1805.08,662.08 1806.50,661.90 C1807.92,661.72 1809.58,660.92 1811.00,660.40 C1812.42,659.88 1813.62,659.18 1815.00,658.80 C1816.38,658.42 1817.30,658.03 1819.30,658.10 C1821.30,658.17 1824.88,658.90 1827.00,659.20 C1829.12,659.50 1830.35,659.70 1832.00,659.90 C1833.65,660.10 1836.08,660.32 1836.90,660.40" fill="none" stroke="#e8127f" stroke-width="6.8" stroke-linejoin="round" stroke-linecap="butt"/>
<line x1="1639.20" y1="630.7" x2="1639.20" y2="762" stroke="#111" stroke-width="2.4"/>
<circle cx="1639.20" cy="630.71" r="8.4" fill="#ffffff"/>
<circle cx="1639.20" cy="630.71" r="6.9" fill="#151515"/>
<line x1="1713.10" y1="572.7" x2="1713.10" y2="762" stroke="#111" stroke-width="2.4"/>
<circle cx="1713.10" cy="572.70" r="8.4" fill="#ffffff"/>
<circle cx="1713.10" cy="572.70" r="6.9" fill="#151515"/>
<g transform="translate(1639.20,783.80)">
<circle r="22.8" fill="url(#gKom)" stroke="#14204f" stroke-width="1.6"/>
<ellipse cx="0" cy="-17.3" rx="6" ry="3.3" fill="#78b8ee"/>
<path d="M-17.6,-9.6 L17.8,-9.6 L0,20.2 Z" fill="#ffffff"/>
<text x="-0.3" y="10.4" font-size="25" font-weight="bold" font-style="italic" fill="#111" stroke="#111" stroke-width="0.5" text-anchor="middle" transform="scale(0.86,1)">4</text>
</g>
<g transform="translate(1713.10,783.80)">
<circle r="22.8" fill="url(#gKom)" stroke="#14204f" stroke-width="1.6"/>
<ellipse cx="0" cy="-17.3" rx="6" ry="3.3" fill="#78b8ee"/>
<path d="M-17.6,-9.6 L17.8,-9.6 L0,20.2 Z" fill="#ffffff"/>
<text x="-0.3" y="10.4" font-size="25" font-weight="bold" font-style="italic" fill="#111" stroke="#111" stroke-width="0.5" text-anchor="middle" transform="scale(0.86,1)">3</text>
</g>
<g transform="translate(840.30,814.7)" stroke="#111" fill="none">
<circle r="11.2" fill="#fff" stroke-width="1.4"/>
<path d="M-3.2,-10.4V10.4M3.2,-10.4V10.4" stroke-width="1.4"/>
<path d="M-6,-7.1H6M-6.2,-2.4H6.2M-6.2,2.2H6.2M-6,6.8H6" stroke-width="1.4"/>
</g>
<g transform="translate(1064.85,814.7)" stroke="#111" fill="none">
<circle r="11.2" fill="#fff" stroke-width="1.4"/>
<path d="M-3.2,-10.4V10.4M3.2,-10.4V10.4" stroke-width="1.4"/>
<path d="M-6,-7.1H6M-6.2,-2.4H6.2M-6.2,2.2H6.2M-6,6.8H6" stroke-width="1.4"/>
</g>
<text transform="translate(194.7,842.1) scale(0.86,1)" font-size="18" fill="#111" text-anchor="middle">10</text>
<text transform="translate(288.0,842.1) scale(0.86,1)" font-size="18" fill="#111" text-anchor="middle">20</text>
<text transform="translate(381.3,842.1) scale(0.86,1)" font-size="18" fill="#111" text-anchor="middle">30</text>
<text transform="translate(474.6,842.1) scale(0.86,1)" font-size="18" fill="#111" text-anchor="middle">40</text>
<text transform="translate(567.9,842.1) scale(0.86,1)" font-size="18" fill="#111" text-anchor="middle">50</text>
<text transform="translate(661.3,842.1) scale(0.86,1)" font-size="18" fill="#111" text-anchor="middle">60</text>
<text transform="translate(754.6,842.1) scale(0.86,1)" font-size="18" fill="#111" text-anchor="middle">70</text>
<text transform="translate(847.9,842.1) scale(0.86,1)" font-size="18" fill="#111" text-anchor="middle">80</text>
<text transform="translate(941.2,842.1) scale(0.86,1)" font-size="18" fill="#111" text-anchor="middle">90</text>
<text transform="translate(1034.5,842.1) scale(0.86,1)" font-size="18" fill="#111" text-anchor="middle">100</text>
<text transform="translate(1127.8,842.1) scale(0.86,1)" font-size="18" fill="#111" text-anchor="middle">110</text>
<text transform="translate(1221.1,842.1) scale(0.86,1)" font-size="18" fill="#111" text-anchor="middle">120</text>
<text transform="translate(1314.4,842.1) scale(0.86,1)" font-size="18" fill="#111" text-anchor="middle">130</text>
<text transform="translate(1407.7,842.1) scale(0.86,1)" font-size="18" fill="#111" text-anchor="middle">140</text>
<text transform="translate(1501.0,842.1) scale(0.86,1)" font-size="18" fill="#111" text-anchor="middle">150</text>
<text transform="translate(1594.4,842.1) scale(0.86,1)" font-size="18" fill="#111" text-anchor="middle">160</text>
<text transform="translate(1687.7,842.1) scale(0.86,1)" font-size="18" fill="#111" text-anchor="middle">170</text>
<text transform="translate(1781.0,842.1) scale(0.86,1)" font-size="18" fill="#111" text-anchor="middle">180</text>
<text transform="translate(172.05,629.55) rotate(-90)" font-size="29" stroke="#4b4b4b" stroke-width="0.3" fill="#4b4b4b" textLength="110.8" lengthAdjust="spacingAndGlyphs">107 - Oviglio</text>
<text transform="translate(220.57,618.30) rotate(-90)" font-size="29" stroke="#4b4b4b" stroke-width="0.3" fill="#4b4b4b" textLength="200.3" lengthAdjust="spacingAndGlyphs">144 - Abbazia di Masio</text>
<text transform="translate(274.69,624.55) rotate(-90)" font-size="29" stroke="#4b4b4b" stroke-width="0.3" fill="#4b4b4b" textLength="140.3" lengthAdjust="spacingAndGlyphs">113 - Quattordio</text>
<text transform="translate(335.34,618.30) rotate(-90)" font-size="29" stroke="#4b4b4b" stroke-width="0.3" fill="#4b4b4b" textLength="211.6" lengthAdjust="spacingAndGlyphs">142 - Accorneri Inferiore</text>
<text transform="translate(384.80,614.55) rotate(-90)" font-size="29" stroke="#4b4b4b" stroke-width="0.3" fill="#4b4b4b" textLength="105.3" lengthAdjust="spacingAndGlyphs">165 - Viarigi</text>
<text transform="translate(415.59,614.55) rotate(-90)" font-size="29" stroke="#4b4b4b" stroke-width="0.3" fill="#4b4b4b" textLength="225.8" lengthAdjust="spacingAndGlyphs">156 - Albavilla Monferrato</text>
<text transform="translate(496.77,622.05) rotate(-90)" font-size="29" stroke="#4b4b4b" stroke-width="0.3" fill="#4b4b4b" textLength="135.3" lengthAdjust="spacingAndGlyphs">129 - Roncaglia</text>
<text transform="translate(540.63,625.80) rotate(-90)" font-size="29" stroke="#4b4b4b" stroke-width="0.3" fill="#4b4b4b" textLength="167.8" lengthAdjust="spacingAndGlyphs">111 - Cantone Losa</text>
<text transform="translate(599.41,625.80) rotate(-90)" font-size="29" stroke="#4b4b4b" stroke-width="0.3" fill="#4b4b4b" textLength="211.6" lengthAdjust="spacingAndGlyphs">116 - Casale Monferrato</text>
<text transform="translate(660.06,626.30) rotate(-90)" font-size="29" stroke="#4b4b4b" stroke-width="0.3" fill="#4b4b4b" textLength="232.1" lengthAdjust="spacingAndGlyphs">111 - Villanova Monferrato</text>
<text transform="translate(713.25,624.55) rotate(-90)" font-size="29" stroke="#4b4b4b" stroke-width="0.3" fill="#4b4b4b" textLength="143.3" lengthAdjust="spacingAndGlyphs">117 - Stroppiana</text>
<text transform="translate(815.89,622.05) rotate(-90)" font-size="29" stroke="#4b4b4b" stroke-width="0.3" fill="#4b4b4b" textLength="112.3" lengthAdjust="spacingAndGlyphs">127 - Vercelli</text>
<text transform="translate(862.54,622.05) rotate(-90)" font-size="29" stroke="#4b4b4b" stroke-width="0.3" fill="#4b4b4b" textLength="169.1" lengthAdjust="spacingAndGlyphs">125 - Borgo Vercelli</text>
<text transform="translate(917.60,619.55) rotate(-90)" font-size="29" stroke="#4b4b4b" stroke-width="0.3" fill="#4b4b4b" textLength="155.3" lengthAdjust="spacingAndGlyphs">141 - Casalvolone</text>
<text transform="translate(976.38,614.55) rotate(-90)" font-size="29" stroke="#4b4b4b" stroke-width="0.3" fill="#4b4b4b" textLength="132.8" lengthAdjust="spacingAndGlyphs">160 - Biandrate</text>
<text transform="translate(1079.02,607.05) rotate(-90)" font-size="29" stroke="#4b4b4b" stroke-width="0.3" fill="#4b4b4b" textLength="154.1" lengthAdjust="spacingAndGlyphs">188 - Bv. per Proh</text>
<text transform="translate(1174.20,597.05) rotate(-90)" font-size="29" stroke="#4b4b4b" stroke-width="0.3" fill="#4b4b4b" textLength="211.6" lengthAdjust="spacingAndGlyphs">240 - Cavaglio d&#39;Agogna</text>
<text transform="translate(1208.72,592.80) rotate(-90)" font-size="29" stroke="#4b4b4b" stroke-width="0.3" fill="#4b4b4b" textLength="226.1" lengthAdjust="spacingAndGlyphs">260 - Fontaneto d&#39;Agogna</text>
<text transform="translate(1270.31,582.05) rotate(-90)" font-size="29" stroke="#4b4b4b" stroke-width="0.3" fill="#4b4b4b" textLength="168.3" lengthAdjust="spacingAndGlyphs">304 - Borgomanero</text>
<text transform="translate(1330.03,567.80) rotate(-90)" font-size="29" stroke="#4b4b4b" stroke-width="0.3" fill="#4b4b4b" textLength="173.6" lengthAdjust="spacingAndGlyphs">365 - Borgo Agnello</text>
<text transform="translate(1383.21,604.55) rotate(-90)" font-size="29" stroke="#4b4b4b" stroke-width="0.3" fill="#4b4b4b" textLength="102.3" lengthAdjust="spacingAndGlyphs">205 - Arona</text>
<text transform="translate(1458.80,602.05) rotate(-90)" font-size="29" stroke="#4b4b4b" stroke-width="0.3" fill="#4b4b4b" textLength="90.3" lengthAdjust="spacingAndGlyphs">216 - Lesa</text>
<text transform="translate(1541.84,605.80) rotate(-90)" font-size="29" stroke="#4b4b4b" stroke-width="0.3" fill="#4b4b4b" textLength="107.8" lengthAdjust="spacingAndGlyphs">203 - Stresa</text>
<text transform="translate(1605.29,605.30) rotate(-90)" font-size="29" stroke="#4b4b4b" stroke-width="0.3" fill="#4b4b4b" textLength="109.1" lengthAdjust="spacingAndGlyphs">205 - Feriolo</text>
<text transform="translate(1647.28,575.80) rotate(-90)" font-size="29" font-weight="bold" stroke="#161616" stroke-width="0.55" fill="#161616" textLength="112.3" lengthAdjust="spacingAndGlyphs">333 - BIENO</text>
<text transform="translate(1678.07,595.80) rotate(-90)" font-size="29" stroke="#4b4b4b" stroke-width="0.3" fill="#4b4b4b" textLength="119.6" lengthAdjust="spacingAndGlyphs">246 - Trobaso</text>
<text transform="translate(1721.93,517.05) rotate(-90)" font-size="29" font-weight="bold" stroke="#161616" stroke-width="0.55" fill="#161616" textLength="155.8" lengthAdjust="spacingAndGlyphs">581 - UNGIASCA</text>
<text transform="translate(1775.12,584.55) rotate(-90)" font-size="29" stroke="#4b4b4b" stroke-width="0.3" fill="#4b4b4b" textLength="146.6" lengthAdjust="spacingAndGlyphs">292 - Cambiasca</text>
<text transform="translate(109.50,865.5) rotate(-90) scale(0.685,1)" font-size="30" font-weight="bold" stroke="#161616" stroke-width="0.5" fill="#161616" text-anchor="end">0.0</text>
<text transform="translate(173.15,865.5) rotate(-90) scale(0.655,1)" font-size="30" stroke="#4b4b4b" stroke-width="0.35" fill="#4b4b4b" text-anchor="end">6.8</text>
<text transform="translate(221.67,865.5) rotate(-90) scale(0.655,1)" font-size="30" stroke="#4b4b4b" stroke-width="0.35" fill="#4b4b4b" text-anchor="end">12.0</text>
<text transform="translate(275.79,865.5) rotate(-90) scale(0.655,1)" font-size="30" stroke="#4b4b4b" stroke-width="0.35" fill="#4b4b4b" text-anchor="end">17.8</text>
<text transform="translate(336.44,865.5) rotate(-90) scale(0.655,1)" font-size="30" stroke="#4b4b4b" stroke-width="0.35" fill="#4b4b4b" text-anchor="end">24.3</text>
<text transform="translate(385.90,865.5) rotate(-90) scale(0.655,1)" font-size="30" stroke="#4b4b4b" stroke-width="0.35" fill="#4b4b4b" text-anchor="end">29.6</text>
<text transform="translate(416.69,865.5) rotate(-90) scale(0.655,1)" font-size="30" stroke="#4b4b4b" stroke-width="0.35" fill="#4b4b4b" text-anchor="end">32.9</text>
<text transform="translate(497.87,865.5) rotate(-90) scale(0.655,1)" font-size="30" stroke="#4b4b4b" stroke-width="0.35" fill="#4b4b4b" text-anchor="end">41.6</text>
<text transform="translate(541.73,865.5) rotate(-90) scale(0.655,1)" font-size="30" stroke="#4b4b4b" stroke-width="0.35" fill="#4b4b4b" text-anchor="end">46.3</text>
<text transform="translate(600.51,865.5) rotate(-90) scale(0.655,1)" font-size="30" stroke="#4b4b4b" stroke-width="0.35" fill="#4b4b4b" text-anchor="end">52.6</text>
<text transform="translate(661.16,865.5) rotate(-90) scale(0.655,1)" font-size="30" stroke="#4b4b4b" stroke-width="0.35" fill="#4b4b4b" text-anchor="end">59.1</text>
<text transform="translate(714.35,865.5) rotate(-90) scale(0.655,1)" font-size="30" stroke="#4b4b4b" stroke-width="0.35" fill="#4b4b4b" text-anchor="end">64.8</text>
<text transform="translate(816.99,865.5) rotate(-90) scale(0.655,1)" font-size="30" stroke="#4b4b4b" stroke-width="0.35" fill="#4b4b4b" text-anchor="end">75.8</text>
<text transform="translate(863.64,865.5) rotate(-90) scale(0.655,1)" font-size="30" stroke="#4b4b4b" stroke-width="0.35" fill="#4b4b4b" text-anchor="end">80.8</text>
<text transform="translate(918.70,865.5) rotate(-90) scale(0.655,1)" font-size="30" stroke="#4b4b4b" stroke-width="0.35" fill="#4b4b4b" text-anchor="end">86.7</text>
<text transform="translate(977.48,865.5) rotate(-90) scale(0.655,1)" font-size="30" stroke="#4b4b4b" stroke-width="0.35" fill="#4b4b4b" text-anchor="end">93.0</text>
<text transform="translate(1080.12,865.5) rotate(-90) scale(0.655,1)" font-size="30" stroke="#4b4b4b" stroke-width="0.35" fill="#4b4b4b" text-anchor="end">104.0</text>
<text transform="translate(1175.30,865.5) rotate(-90) scale(0.655,1)" font-size="30" stroke="#4b4b4b" stroke-width="0.35" fill="#4b4b4b" text-anchor="end">114.2</text>
<text transform="translate(1209.82,865.5) rotate(-90) scale(0.655,1)" font-size="30" stroke="#4b4b4b" stroke-width="0.35" fill="#4b4b4b" text-anchor="end">117.9</text>
<text transform="translate(1271.41,865.5) rotate(-90) scale(0.655,1)" font-size="30" stroke="#4b4b4b" stroke-width="0.35" fill="#4b4b4b" text-anchor="end">124.5</text>
<text transform="translate(1331.13,865.5) rotate(-90) scale(0.655,1)" font-size="30" stroke="#4b4b4b" stroke-width="0.35" fill="#4b4b4b" text-anchor="end">130.9</text>
<text transform="translate(1384.31,865.5) rotate(-90) scale(0.655,1)" font-size="30" stroke="#4b4b4b" stroke-width="0.35" fill="#4b4b4b" text-anchor="end">136.6</text>
<text transform="translate(1459.90,865.5) rotate(-90) scale(0.655,1)" font-size="30" stroke="#4b4b4b" stroke-width="0.35" fill="#4b4b4b" text-anchor="end">144.7</text>
<text transform="translate(1542.94,865.5) rotate(-90) scale(0.655,1)" font-size="30" stroke="#4b4b4b" stroke-width="0.35" fill="#4b4b4b" text-anchor="end">153.6</text>
<text transform="translate(1606.39,865.5) rotate(-90) scale(0.655,1)" font-size="30" stroke="#4b4b4b" stroke-width="0.35" fill="#4b4b4b" text-anchor="end">160.4</text>
<text transform="translate(1648.38,865.5) rotate(-90) scale(0.685,1)" font-size="30" font-weight="bold" stroke="#161616" stroke-width="0.5" fill="#161616" text-anchor="end">164.9</text>
<text transform="translate(1679.17,865.5) rotate(-90) scale(0.655,1)" font-size="30" stroke="#4b4b4b" stroke-width="0.35" fill="#4b4b4b" text-anchor="end">168.2</text>
<text transform="translate(1723.03,865.5) rotate(-90) scale(0.685,1)" font-size="30" font-weight="bold" stroke="#161616" stroke-width="0.5" fill="#161616" text-anchor="end">172.9</text>
<text transform="translate(1776.22,865.5) rotate(-90) scale(0.655,1)" font-size="30" stroke="#4b4b4b" stroke-width="0.35" fill="#4b4b4b" text-anchor="end">178.6</text>
<text transform="translate(1845.57,865.5) rotate(-90) scale(0.685,1)" font-size="30" font-weight="bold" stroke="#161616" stroke-width="0.5" fill="#161616" text-anchor="end">186.0</text>
<path d="M99.5,966.2H1835.4" stroke="#b3b3b3" stroke-width="2.6" fill="none"/>
<path d="M99.5,944.5V967.5" stroke="#b3b3b3" stroke-width="2.6" fill="none"/>
<path d="M290.5,944.5V967.5" stroke="#b3b3b3" stroke-width="2.6" fill="none"/>
<path d="M391.3,944.5V967.5" stroke="#b3b3b3" stroke-width="2.6" fill="none"/>
<path d="M674.0,944.5V967.5" stroke="#b3b3b3" stroke-width="2.6" fill="none"/>
<path d="M870.6,944.5V967.5" stroke="#b3b3b3" stroke-width="2.6" fill="none"/>
<path d="M1498.2,944.5V967.5" stroke="#b3b3b3" stroke-width="2.6" fill="none"/>
<path d="M1835.4,944.5V967.5" stroke="#b3b3b3" stroke-width="2.6" fill="none"/>
<text transform="translate(200.3,958) scale(0.65,1)" font-size="28" fill="#b3b3b3" text-anchor="middle">AL</text>
<text transform="translate(342.9,958) scale(0.65,1)" font-size="28" fill="#b3b3b3" text-anchor="middle">AT</text>
<text transform="translate(529.0,958) scale(0.65,1)" font-size="28" fill="#b3b3b3" text-anchor="middle">AL</text>
<text transform="translate(779.0,958) scale(0.65,1)" font-size="28" fill="#b3b3b3" text-anchor="middle">VC</text>
<text transform="translate(1177.9,958) scale(0.65,1)" font-size="28" fill="#b3b3b3" text-anchor="middle">NO</text>
<text transform="translate(1673.0,958) scale(0.65,1)" font-size="28" fill="#b3b3b3" text-anchor="middle">VB</text>
<path d="M33.9,330 H78.7 a3.2,3.2 0 0 1 3.2,3.2 V692.7 a25.6,25.6 0 0 1 -51.2,0 V333.2 a3.2,3.2 0 0 1 3.2,-3.2 Z" fill="url(#gStart)" stroke="#0c9d39" stroke-width="6.4"/>
<text transform="translate(68.1,649.2) rotate(-90)" font-size="35.6" font-weight="bold" fill="#1a1a1a" stroke="#1a1a1a" stroke-width="1.3" stroke-linejoin="round" lengthAdjust="spacingAndGlyphs" textLength="38.8">98</text>
<rect x="56.5" y="590.2" width="6" height="10.2" fill="#1a1a1a"/>
<text transform="translate(68.1,580.4) rotate(-90)" font-size="35.6" font-weight="bold" fill="#1a1a1a" stroke="#1a1a1a" stroke-width="1.3" stroke-linejoin="round" lengthAdjust="spacingAndGlyphs" textLength="227.2">ALESSANDRIA</text>
<g transform="translate(56.2,692.8)">
<circle r="22.6" fill="url(#gGreen)" stroke="#0c3315" stroke-width="3"/>
<g fill="none" stroke="#fff" stroke-width="2.4"><circle cx="-11.6" cy="6.8" r="6.3"/><circle cx="10.8" cy="6.8" r="6.3"/></g>
<path d="M-10,-8 C-10.5,-11.5 -7.5,-12.8 -4,-12.6 L1.6,-13.6 C2.8,-15.7 7.4,-15.6 8.3,-13 C8.9,-11.2 7.6,-9.8 6,-9.5 L11.9,-4.6 L10.6,-2.4 L4.4,-6.4 L1.6,-5.4 L4.9,-2.6 L2.6,2.8 L1,9.4 L-3.4,9.8 L-3,3.8 L-8.6,7.6 L-10.4,5.4 L-4.6,-0.4 L-7.6,-4.4 C-9,-5.4 -9.8,-6.5 -10,-8 Z" fill="#fff"/>
<path d="M10.8,6.8 L9.6,-3 M-11.6,6.8 L-6,8.2" fill="none" stroke="#fff" stroke-width="1.9" stroke-linecap="round"/>
<circle cx="0.1" cy="0.7" r="0.9" fill="#3f9a55"/>
</g>
<path d="M1857.2,340.7 H1902 a3.2,3.2 0 0 1 3.2,3.2 V652.9 a25.6,25.6 0 0 1 -51.2,0 V343.9 a3.2,3.2 0 0 1 3.2,-3.2 Z" fill="url(#gEnd)" stroke="#e30613" stroke-width="6.4"/>
<text transform="translate(1892.2,613.4) rotate(-90)" font-size="36.6" font-weight="bold" fill="#1a1a1a" stroke="#1a1a1a" stroke-width="1.3" stroke-linejoin="round" lengthAdjust="spacingAndGlyphs" textLength="52.5">201</text>
<rect x="1880" y="536.8" width="6" height="9.6" fill="#1a1a1a"/>
<text transform="translate(1892.2,524.8) rotate(-90)" font-size="36.6" font-weight="bold" fill="#1a1a1a" stroke="#1a1a1a" stroke-width="1.3" stroke-linejoin="round" lengthAdjust="spacingAndGlyphs" textLength="163.6">VERBANIA</text>
<g transform="translate(1879.3,652.2)">
<circle r="21.8" fill="url(#gRed)" stroke="#24090b" stroke-width="3"/>
<g fill="none" stroke="#fff" stroke-width="2.5"><circle cx="-11.1" cy="8.3" r="6"/><circle cx="10.9" cy="8.3" r="6"/></g>
<path d="M-8.4,-12 L-3,-13.2 L-1.4,-8.4 L-2,-3 L0.2,-1.6 L3.2,3 L1.2,11 L-3,11.4 L-3.4,5.2 L-8,8.2 L-9.6,6 L-5.4,0.6 L-8.8,-5 Z" fill="#fff"/>
<path d="M-2.8,-10.8 L1.3,-19.8" fill="none" stroke="#fff" stroke-width="2.9" stroke-linecap="round"/>
<path d="M0.2,-1.4 L8.4,-3.8 L10.4,-1.4 L10.9,8.3 M-11.1,8.3 L-6,9.2" fill="none" stroke="#fff" stroke-width="2.1" stroke-linecap="round" stroke-linejoin="round"/>
<circle cx="-5.8" cy="-15.7" r="2.5" fill="#fff"/>
</g>
<path d="M1848.30,754.93 C1845.02,760.51 1846.09,770.52 1849.70,770.68 C1852.98,770.84 1852.65,760.51 1855.27,755.75 C1857.08,753.13 1861.02,756.82 1861.43,767.07 C1861.43,771.58 1856.92,772.81 1854.45,775.11 L1846.09,787.74 L1860.36,789.22 L1855.44,775.44 M1847.24,796.60 C1845.27,805.63 1847.73,810.71 1850.35,809.73 C1852.81,808.74 1852.65,800.87 1854.04,795.95 C1855.27,792.50 1860.20,794.31 1860.61,802.35 C1861.02,808.09 1858.56,812.19 1856.10,812.85 " fill="none" stroke="#111" stroke-width="3" stroke-linecap="round" stroke-linejoin="round"/>
</svg></body></html>
